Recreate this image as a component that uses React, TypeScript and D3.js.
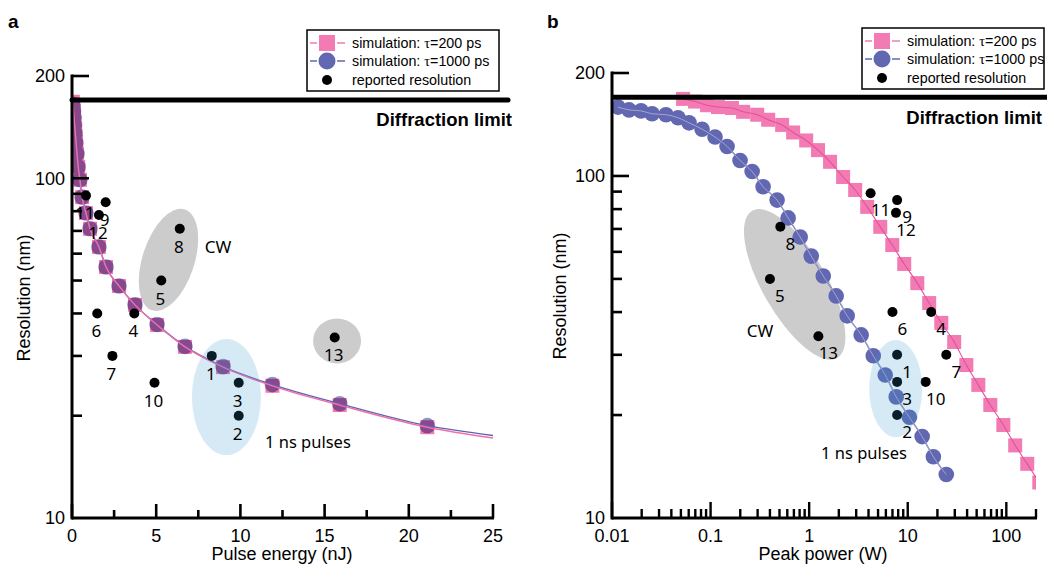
import * as d3 from "d3";

// panel a: simulated resolution (nm) vs pulse energy (nJ)
const energyA = [0.05, 0.07, 0.09, 0.12, 0.15, 0.19, 0.24, 0.3, 0.37, 0.47, 0.6, 0.83, 1.07, 1.6, 2.02, 2.79, 3.74, 5.05, 6.71, 8.97, 11.9, 15.9, 21.1];
const resA200 = [168, 163, 158, 152, 145, 137, 128, 118, 108, 99, 88, 79, 71, 62.8, 54.8, 48.2, 42.4, 37.0, 31.9, 27.8, 24.5, 21.5, 18.5];
const resA1000 = [165, 161, 157, 151, 144, 136, 127, 118, 108, 99, 88, 79, 71, 62.8, 54.8, 48.2, 42.4, 37.1, 32.0, 27.9, 24.7, 21.7, 18.7];
// the simulated lines run on past the last marker
const tailEnergyA = [25];
const tailA200 = [17.2];
const tailA1000 = [17.5];

// panel b: simulated resolution (nm) vs peak power (W)
const power200 = [0.0526, 0.0696, 0.0921, 0.119, 0.165, 0.214, 0.297, 0.384, 0.532, 0.688, 0.933, 1.23, 1.63, 2.21, 2.93, 3.88, 5.26, 6.97, 9.21, 12.5, 16.5, 21.9, 29.6, 39.3, 52.0, 68.8, 93.3, 123, 163, 216];
const res200 = [168, 165, 161, 159, 158, 154, 151, 146, 141, 134, 127, 119, 110, 99.3, 91, 81.2, 71, 62.8, 55.3, 48.6, 42.5, 37.2, 32.7, 28, 24.5, 21.4, 18.7, 16.3, 14.4, 12.7];
const power1000 = [0.0115, 0.0149, 0.0197, 0.0255, 0.0353, 0.0468, 0.0605, 0.082, 0.111, 0.147, 0.199, 0.264, 0.341, 0.473, 0.612, 0.811, 1.05, 1.39, 1.88, 2.43, 3.37, 4.47, 5.91, 7.64, 10.4, 14.0, 18.2, 24.6];
const res1000 = [159, 156, 155, 152, 151, 148, 143, 137, 130, 122, 111, 103, 93, 85, 75.4, 66.3, 58.3, 51, 44.6, 39, 34.3, 29.8, 26.2, 22.6, 19.7, 17.3, 15.1, 13.4];

// reported resolutions from the literature
const reportedLabels = ["1", "2", "3", "4", "5", "6", "7", "8", "9", "10", "11", "12", "13"];
const reportedEnergy = [8.3, 9.9, 9.9, 3.7, 5.3, 1.5, 2.4, 6.4, 2.0, 4.9, 0.83, 1.6, 15.6];
const reportedPower = [7.8, 7.8, 7.8, 17.3, 0.4, 7.0, 24.6, 0.51, 7.8, 15.2, 4.2, 7.6, 1.24];
const reportedRes = [30, 20, 25, 40, 50, 40, 30, 71, 85, 25, 89, 78, 34];

const diffractionLimit = 170;

const energyTicks = [0, 5, 10, 15, 20, 25];
const energyMinor = [2.5, 7.5, 12.5, 17.5, 22.5];
const resLabels = [10, 100, 200];

const legendLabels = ["simulation: ", "simulation: ", "reported resolution"];
const legendTau = ["=200 ps", "=1000 ps", ""];

const PINK = "#f27bb3";
const BLUE = "#6267b1";
const GRAY = "#cccccc";
const SANS = "'Liberation Sans', Arial, sans-serif";
const LABEL = "'Noto Sans', sans-serif";

function zip(xs: number[], ys: number[]) {
  return xs.map((v, i) => [v, ys[i]] as [number, number]);
}

function YAxis({ y, x0 }: { y: any; x0: number }) {
  const ticks = y.ticks().filter((v: number) => v > 10);
  return (
    <g>
      <line x1={x0} x2={x0} y1={y(200) - 1.5} y2={y(10) + 1.5} stroke="#000" strokeWidth={3} />
      {ticks.map((v: number) => (
        <line key={v} x1={x0} x2={x0 + (v === 100 || v === 200 ? 17 : 10)} y1={y(v)} y2={y(v)} stroke="#000" strokeWidth={2.6} />
      ))}
      {resLabels.map((v) => (
        <text key={v} x={x0 - 7} y={y(v)} dy="0.36em" textAnchor="end" fontFamily={SANS} fontSize={18}>{v}</text>
      ))}
    </g>
  );
}

function Legend({ x0, y0, w }: { x0: number; y0: number; w: number }) {
  const rows = [13, 31, 50];
  const mx = x0 + 20;
  return (
    <g fontFamily={SANS} fontSize={14.3}>
      <rect x={x0} y={y0} width={w} height={61} fill="#fff" stroke="#000" strokeWidth={1.5} />
      {[PINK, BLUE].map((c, i) => (
        <g key={i}>
          <line x1={mx - 17} x2={mx - 10} y1={y0 + rows[i]} y2={y0 + rows[i]} stroke={c} strokeWidth={1.5} />
          <line x1={mx + 10} x2={mx + 18} y1={y0 + rows[i]} y2={y0 + rows[i]} stroke={c} strokeWidth={1.5} />
        </g>
      ))}
      <rect x={mx - 8} y={y0 + rows[0] - 8} width={16} height={16} fill={PINK} />
      <circle cx={mx} cy={y0 + rows[1]} r={8.5} fill={BLUE} />
      <circle cx={mx} cy={y0 + rows[2]} r={5} fill="#000" />
      {legendLabels.map((t, i) => (
        <text key={i} x={x0 + 45} y={y0 + rows[i] + 5}>
          {t}
          {legendTau[i] && <tspan fontFamily="'Liberation Serif', serif">τ</tspan>}
          {legendTau[i]}
        </text>
      ))}
    </g>
  );
}

export default function App() {
  const xA = d3.scaleLinear([0, 25], [72, 493]);
  const yA = d3.scaleLog([10, 200], [518, 76]);
  const xB = d3.scaleLog([0.01, 200], [612, 1036]);
  const yB = d3.scaleLog([10, 200], [518, 73]);

  const lineA = d3.line<[number, number]>().x((d) => xA(d[0])).y((d) => yA(d[1])).curve(d3.curveMonotoneX);
  const lineB = d3.line<[number, number]>().x((d) => xB(d[0])).y((d) => yB(d[1])).curve(d3.curveMonotoneX);

  const a200 = zip(energyA, resA200);
  const a1000 = zip(energyA, resA1000);
  const b200 = zip(power200, res200);
  const b1000 = zip(power1000, res1000);
  const repA = zip(reportedEnergy, reportedRes);
  const repB = zip(reportedPower, reportedRes);

  const powerTicks = xB.ticks();
  const isDecade = (v: number) => Math.abs(Math.log10(v) - Math.round(Math.log10(v))) < 1e-6;

  return (
    <svg width={1047} height={565} style={{ position: "absolute", left: 0, top: 0, display: "block" }}>
      <defs>
        <clipPath id="clipA"><rect x={72} y={60} width={440} height={458} /></clipPath>
        <clipPath id="clipB"><rect x={612} y={60} width={424} height={458} /></clipPath>
      </defs>
      <rect width={1047} height={565} fill="#fff" />

      {/* ---------------- panel a ---------------- */}
      <text x={8} y={28} fontFamily={SANS} fontWeight="bold" fontSize={19}>a</text>
      <g>
        <ellipse transform={`translate(${xA(5.73)},${yA(57.5)}) rotate(18)`} rx={26} ry={53} fill={GRAY} />
        <ellipse cx={xA(15.74)} cy={yA(33.2)} rx={24} ry={22.5} fill={GRAY} />
      </g>
      <g clipPath="url(#clipA)">
        {a200.map((d, i) => (
          <rect key={i} x={xA(d[0]) - 7} y={yA(d[1]) - 7} width={14} height={14} fill={PINK} />
        ))}
        <g style={{ mixBlendMode: "multiply" }} opacity={0.7}>
          {a1000.map((d, i) => (
            <circle key={i} cx={xA(d[0])} cy={yA(d[1])} r={7.8} fill={BLUE} />
          ))}
        </g>
        <path d={lineA([...a1000, ...zip(tailEnergyA, tailA1000)]) || ""} fill="none" stroke="#5d63b3" strokeWidth={1.4} />
        <path d={lineA([...a200, ...zip(tailEnergyA, tailA200)]) || ""} fill="none" stroke="#f070aa" strokeWidth={1.4} />
      </g>
      {repA.map((d, i) => (
        <circle key={i} cx={xA(d[0])} cy={yA(d[1])} r={5} fill="#000" />
      ))}
      <ellipse cx={xA(9.17)} cy={yA(22.7)} rx={34.5} ry={58} fill="rgb(50,150,205)" opacity={0.2} />
      <g fontFamily={LABEL} fontSize={17} textAnchor="middle">
        {repA.map((d, i) => (
          <text key={i} x={xA(d[0]) - 1} y={yA(d[1]) + 24}>{reportedLabels[i]}</text>
        ))}
        <text x={xA(8.67)} y={yA(62.9) + 6}>CW</text>
      </g>
      <text x={xA(11.46)} y={yA(16.7) + 6} fontFamily={LABEL} fontSize={16.5}>1 ns pulses</text>

      <line x1={xA(0)} x2={508} y1={yA(diffractionLimit)} y2={yA(diffractionLimit)} stroke="#000" strokeWidth={5} strokeLinecap="round" />
      <text x={512} y={126} textAnchor="end" fontFamily={SANS} fontWeight="bold" fontSize={18.5}>Diffraction limit</text>

      <YAxis y={yA} x0={72} />
      <line x1={72} x2={494} y1={518} y2={518} stroke="#000" strokeWidth={3} />
      {energyTicks.map((v) => (
        <g key={v}>
          <line x1={xA(v)} x2={xA(v)} y1={518} y2={504} stroke="#000" strokeWidth={2.6} />
          <text x={xA(v)} y={542} textAnchor="middle" fontFamily={SANS} fontSize={18}>{v}</text>
        </g>
      ))}
      {energyMinor.map((v) => (
        <line key={v} x1={xA(v)} x2={xA(v)} y1={518} y2={510} stroke="#000" strokeWidth={2.6} />
      ))}
      <text x={282} y={560} textAnchor="middle" fontFamily={SANS} fontSize={18}>Pulse energy (nJ)</text>
      <text transform="translate(30,298) rotate(-90)" textAnchor="middle" fontFamily={SANS} fontSize={18}>Resolution (nm)</text>
      <Legend x0={307} y0={30} w={192} />

      {/* ---------------- panel b ---------------- */}
      <text x={547} y={28} fontFamily={SANS} fontWeight="bold" fontSize={19}>b</text>
      <ellipse transform={`translate(${xB(0.713)},${yB(48.2)}) rotate(-30)`} rx={32} ry={85} fill={GRAY} />
      <g clipPath="url(#clipB)">
        <path d={lineB(b1000) || ""} fill="none" stroke={BLUE} strokeWidth={1.4} />
        {b200.map((d, i) => (
          <rect key={i} x={xB(d[0]) - 7} y={yB(d[1]) - 7} width={14} height={14} fill={PINK} />
        ))}
        <path d={lineB(b200) || ""} fill="none" stroke="#e4509a" strokeWidth={1.1} />
        {b1000.map((d, i) => (
          <circle key={i} cx={xB(d[0])} cy={yB(d[1])} r={7.8} fill={BLUE} />
        ))}
        <path d={lineB(b1000) || ""} fill="none" stroke="#fff" strokeOpacity={0.45} strokeWidth={0.9} />
      </g>
      {repB.map((d, i) => (
        <circle key={i} cx={xB(d[0])} cy={yB(d[1])} r={5} fill="#000" />
      ))}
      <ellipse cx={xB(7.55)} cy={yB(23.9)} rx={26.5} ry={48.5} fill="rgb(50,150,205)" opacity={0.2} />
      <g fontFamily={LABEL} fontSize={17} textAnchor="middle">
        {repB.map((d, i) => (
          <text key={i} x={xB(d[0]) + 10} y={yB(d[1]) + 23}>{reportedLabels[i]}</text>
        ))}
        <text x={xB(0.318)} y={yB(35.2) + 6}>CW</text>
      </g>
      <text x={xB(1.32)} y={yB(15.5) + 6} fontFamily={LABEL} fontSize={16.5}>1 ns pulses</text>

      <line x1={612} x2={1047} y1={yB(diffractionLimit)} y2={yB(diffractionLimit)} stroke="#000" strokeWidth={5} />
      <text x={1042} y={124} textAnchor="end" fontFamily={SANS} fontWeight="bold" fontSize={18.5}>Diffraction limit</text>

      <YAxis y={yB} x0={612} />
      <line x1={612} x2={1037} y1={518} y2={518} stroke="#000" strokeWidth={3} />
      {powerTicks.map((v, i) => (
        <line key={i} x1={xB(v)} x2={xB(v)} y1={518} y2={isDecade(v) ? 502 : 509} stroke="#000" strokeWidth={2.4} />
      ))}
      {powerTicks.filter(isDecade).map((v, i) => (
        <text key={i} x={xB(v)} y={542} textAnchor="middle" fontFamily={SANS} fontSize={18}>{d3.format("~g")(v)}</text>
      ))}
      <text x={823} y={560} textAnchor="middle" fontFamily={SANS} fontSize={18}>Peak power (W)</text>
      <text transform="translate(566,296) rotate(-90)" textAnchor="middle" fontFamily={SANS} fontSize={18}>Resolution (nm)</text>
      <Legend x0={862} y0={28} w={182} />
    </svg>
  );
}
